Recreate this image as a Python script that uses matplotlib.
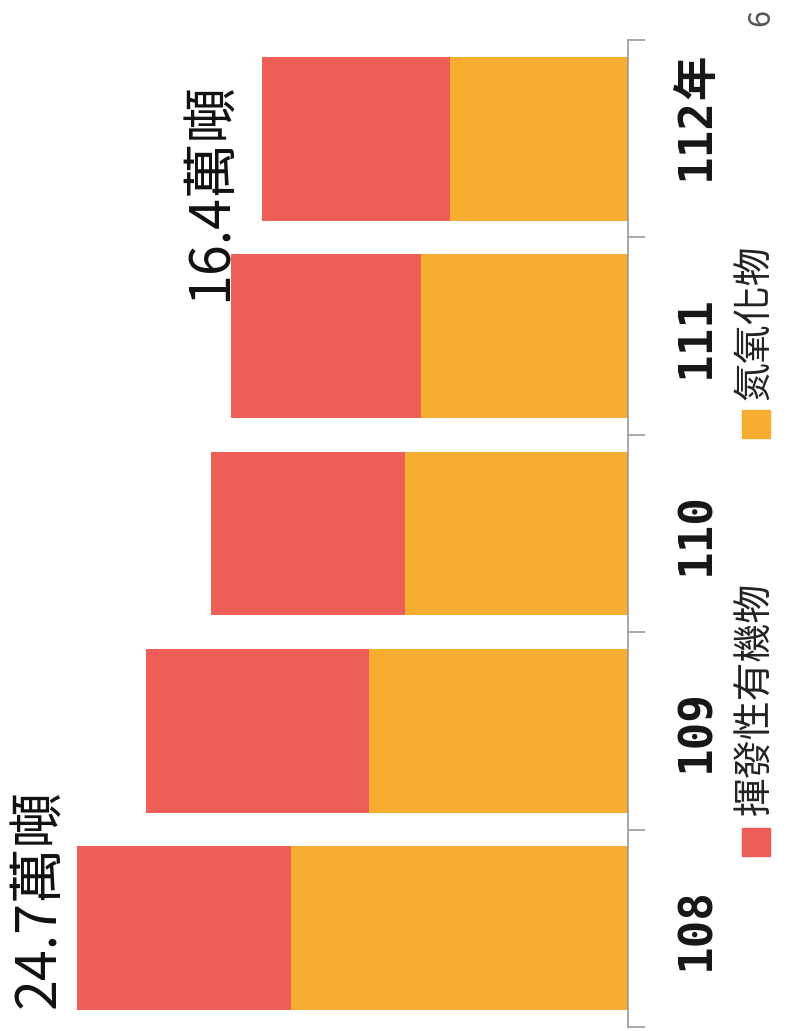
import matplotlib
matplotlib.use("Agg")
import matplotlib.pyplot as plt
from matplotlib.patches import Rectangle
import numpy as np

# ---- data (萬噸) ----
years = ["108", "109", "110", "111", "112"]
year_suffix = "年"
nox = [15.1, 11.6, 10.0, 9.3, 8.0]      # 氮氧化物
voc = [9.6, 10.0, 8.7, 8.5, 8.4]        # 揮發性有機物
series_names = ["揮發性有機物", "氮氧化物"]
annot_labels = ["24.7萬噸", "16.4萬噸"]
page_no = "6"

RED = "#EC5E57"
ORANGE = "#F7AE30"
GRAY = "#9a9a9a"
CJK = ["Noto Sans CJK TC", "DejaVu Sans"]
MONO = ["DejaVu Sans Mono", "Noto Sans CJK TC"]

W, H = 789, 1031
fig = plt.figure(figsize=(W / 100, H / 100), dpi=100)

def fx(px):
    return px / W

def fy(py):
    return 1 - py / H

ax_left, ax_right, ax_top, ax_bottom = 0, 628, 40, 1027
ax = fig.add_axes([fx(ax_left), fy(ax_bottom), fx(ax_right - ax_left),
                   (ax_bottom - ax_top) / H])

y = np.arange(len(years))
ax.barh(y, nox, height=0.83, color=ORANGE, label=series_names[1])
ax.barh(y, voc, left=nox, height=0.83, color=RED, label=series_names[0])

ax.set_xlim(628 / 22.31, 0)
ax.set_ylim(-0.5, len(years) - 0.5)

for s in ["left", "top", "bottom"]:
    ax.spines[s].set_visible(False)
ax.spines["right"].set_color(GRAY)
ax.spines["right"].set_linewidth(1.2)
ax.set_xticks([])

ax.yaxis.tick_right()
ax.set_yticks(y)
ax.set_yticklabels(years, rotation=90, va="center", fontfamily=MONO,
                   fontweight="bold", fontsize=33, color="#161616")
ax.set_yticks(np.arange(-0.5, len(years), 1.0), minor=True)
ax.tick_params(axis="y", which="major", length=0, pad=33, left=False, right=True)
ax.tick_params(axis="y", which="minor", length=12, width=1.2, color=GRAY,
               direction="out", left=False, right=True)

# suffix after the last year label
fig.text(fx(697), fy(99), year_suffix, rotation=90, rotation_mode="anchor",
         ha="left", va="center", fontsize=32, fontfamily=CJK,
         fontweight="bold", color="#161616")

# annotations of totals
ax.text(25.68, -0.405, annot_labels[0], rotation=90, rotation_mode="anchor",
        ha="left", va="baseline", fontsize=40, fontfamily=CJK,
        fontweight="medium", color="#111111")
ax.text(17.97, 3.18, annot_labels[1], rotation=90, rotation_mode="anchor",
        ha="left", va="baseline", fontsize=40, fontfamily=CJK,
        fontweight="medium", color="#111111")

# legend (drawn manually, rotated)
sq = 28
fig.patches.append(Rectangle((fx(742), fy(856)), fx(sq), sq / H,
                             transform=fig.transFigure, color=RED))
fig.text(fx(755), fy(815), series_names[0], rotation=90, rotation_mode="anchor",
         ha="left", va="center", fontsize=28, fontfamily=CJK, color="#222222")
fig.patches.append(Rectangle((fx(742), fy(438)), fx(sq), sq / H,
                             transform=fig.transFigure, color=ORANGE))
fig.text(fx(755), fy(400), series_names[1], rotation=90, rotation_mode="anchor",
         ha="left", va="center", fontsize=28, fontfamily=CJK, color="#222222")

# page number
fig.text(fx(761), fy(18), page_no, rotation=90, rotation_mode="anchor",
         ha="center", va="center", fontsize=22, fontfamily=CJK,
         fontweight="light", color="#555555")

fig.savefig("out.png", dpi=100)
